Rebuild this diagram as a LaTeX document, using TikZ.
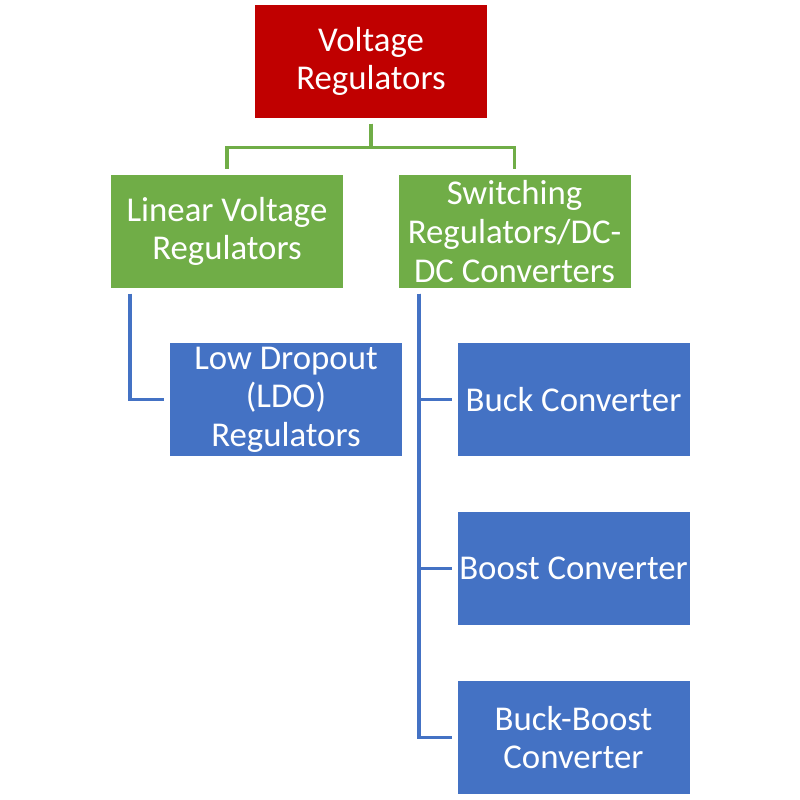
\documentclass[tikz,border=0pt]{standalone}
\usepackage{fontspec}
\setmainfont{Carlito}
\usepackage{xcolor}
\usetikzlibrary{positioning}
\definecolor{redbox}{HTML}{C00000}
\definecolor{greenbox}{HTML}{70AD47}
\definecolor{bluebox}{HTML}{4472C4}

\tikzset{
  box/.style={minimum width=4.64cm, minimum height=2.26cm, align=center,
    text=white, font=\fontsize{19.8}{22}\selectfont, inner sep=0pt},
  gline/.style={draw=greenbox, line width=2.1pt},
  bline/.style={draw=bluebox, line width=2.1pt, shorten <=3pt, shorten >=3pt}
}

\begin{document}
\begin{tikzpicture}
  \useasboundingbox (0,0) rectangle (16,-16);
  \node[box, fill=redbox] (vr) at (7.42,-1.23) {Voltage\\Regulators};
  \node[box, fill=greenbox] (lin) at (4.54,-4.63) {Linear Voltage\\Regulators};
  \node[box, fill=greenbox] (sw) at (10.29,-4.63) {Switching\\Regulators/DC-\\DC Converters};
  \node[box, fill=bluebox] (ldo) at (5.72,-7.99) {Low Dropout\\(LDO)\\Regulators};
  \node[box, fill=bluebox] (buck) at (11.47,-7.99) {Buck Converter};
  \node[box, fill=bluebox] (boost) at (11.47,-11.37) {Boost Converter};
  \node[box, fill=bluebox] (bb) at (11.47,-14.75) {Buck-Boost\\Converter};
  % green tree
  \draw[gline, shorten <=3pt, shorten >=3pt] (vr.south) -- ++(0,-0.58) -| (lin.north);
  \draw[gline, shorten <=3pt, shorten >=3pt] (vr.south) -- ++(0,-0.58) -| (sw.north);
  % blue branches
  \draw[bline] ([xshift=-1.94cm]lin.south) |- (ldo.west);
  \draw[bline] ([xshift=-1.91cm]sw.south) |- (buck.west);
  \draw[bline] ([xshift=-1.91cm]sw.south) |- (boost.west);
  \draw[bline] ([xshift=-1.91cm]sw.south) |- (bb.west);
\end{tikzpicture}
\end{document}
